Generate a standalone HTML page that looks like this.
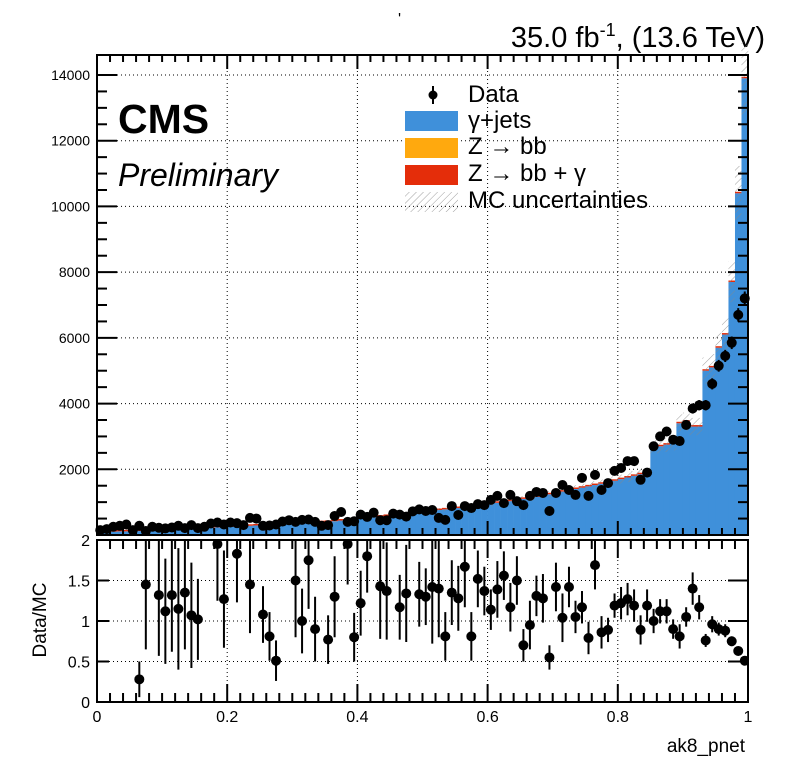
<!DOCTYPE html>
<html><head><meta charset="utf-8"><style>
body{margin:0;background:#fff}
svg{display:block;font-family:"Liberation Sans",sans-serif}
</style></head><body>
<svg id="c" width="796" height="772" viewBox="0 0 796 772">
<defs>
<pattern id="hatch" width="5" height="5" patternUnits="userSpaceOnUse" patternTransform="rotate(45)">
<line x1="0" y1="0" x2="0" y2="5" stroke="#888" stroke-width="0.8"/></pattern>
</defs>
<text x="398" y="24" font-size="16">'</text>
<text x="765" y="47" font-size="29" text-anchor="end">35.0 fb<tspan dy="-11" font-size="18">-1</tspan><tspan dy="11">, (13.6 TeV)</tspan></text>
<g id="topG"></g>
<g id="botG"></g>
<text x="118" y="133" font-size="41" font-weight="bold">CMS</text>
<text x="118" y="186" font-size="32" font-style="italic">Preliminary</text>
<g font-size="24">
<g><line x1="433" y1="86" x2="433" y2="104" stroke="#000" stroke-width="2"/><circle cx="433" cy="95" r="4.5" fill="#000"/><text x="468" y="102">Data</text></g>
<g><rect x="405" y="111" width="53" height="20" fill="#3f90da"/><text x="468" y="128">γ+jets</text></g>
<g><rect x="405" y="138" width="53" height="20" fill="#ffa90e"/><text x="468" y="154">Z → bb</text></g>
<g><rect x="405" y="165" width="53" height="20" fill="#e42d0a"/><text x="468" y="181">Z → bb + γ</text></g>
<g><rect x="405" y="192" width="53" height="20" fill="url(#hatch)"/><text x="468" y="208">MC uncertainties</text></g>
</g>
<text x="745" y="752" font-size="19" text-anchor="end">ak8_pnet</text>
<text transform="translate(46,620) rotate(-90)" font-size="19" text-anchor="middle">Data/MC</text>
</svg>
<script>
const mcValues=[80,90,100,110,110,120,120,130,140,140,150,160,170,180,190,200,210,220,230,240,250,260,270,280,290,300,310,320,330,340,350,360,370,380,390,400,420,440,460,480,500,520,540,560,580,600,620,640,660,680,720,740,760,780,800,820,840,870,900,920,950,980,1000,1030,1060,1100,1130,1160,1200,1240,1280,1320,1360,1400,1440,1480,1520,1560,1600,1650,1700,1750,1800,1850,1900,2700,2700,2750,2800,3400,3450,3300,3300,5000,5100,5700,6100,7700,10400,13900];
const dataValues=[150,180,250,280,320,150,280,120,250,220,200,230,280,210,300,210,250,350,380,320,380,360,300,520,500,280,290,320,410,450,400,460,470,400,280,300,580,700,400,420,620,550,680,450,450,650,620,560,720,780,730,760,520,460,880,610,880,820,940,910,1070,1190,970,1220,1030,910,1190,1310,1280,730,1280,1520,1370,1220,1740,1190,1830,1370,1580,1950,2040,2250,2250,1680,1900,2700,3000,3150,2900,2860,3350,3850,3950,3950,4600,5150,5450,5850,6700,7200];
const ratioValues=[null,null,null,null,null,null,0.28,1.45,null,1.32,1.12,1.32,1.15,1.35,1.07,1.02,null,null,1.95,1.27,null,1.83,null,1.45,null,1.08,0.81,0.51,null,null,1.5,1.0,1.75,0.9,null,0.77,1.3,null,1.95,0.8,1.22,1.8,null,1.43,1.37,null,1.17,1.34,null,1.33,1.3,1.42,1.40,0.81,1.35,1.28,1.67,0.81,1.52,1.37,1.14,1.39,1.56,1.17,1.5,0.70,0.95,1.31,1.28,0.55,1.42,1.04,1.42,1.05,1.17,0.79,1.69,0.86,0.89,1.19,1.22,1.27,1.19,0.89,1.19,1.0,1.12,1.12,0.9,0.81,1.05,1.4,1.17,0.76,0.96,0.9,0.88,0.75,0.63,0.51];
const ratioErrors=[0.6,0.6,0.6,0.6,0.6,0.6,0.22,0.8,0.7,0.75,0.65,0.7,0.75,0.7,0.65,0.5,0.6,0.6,0.7,0.6,0.6,0.6,0.6,0.6,0.6,0.35,0.3,0.25,0.4,0.4,0.7,0.4,0.6,0.4,0.4,0.3,0.5,0.4,0.5,0.3,0.4,0.45,0.4,0.65,0.6,0.4,0.4,0.6,0.4,0.4,0.35,0.7,0.6,0.3,0.4,0.4,0.5,0.3,0.35,0.3,0.25,0.35,0.3,0.3,0.3,0.2,0.3,0.25,0.3,0.15,0.3,0.3,0.25,0.2,0.2,0.2,0.3,0.2,0.15,0.15,0.2,0.2,0.2,0.18,0.2,0.15,0.15,0.15,0.12,0.15,0.12,0.2,0.15,0.08,0.1,0.08,0.08,0.06,0.05,0.05];
const yTicksTop=[2000,4000,6000,8000,10000,12000,14000];
const yTicksBot=[0,0.5,1,1.5,2];
const yTickLabelsBot=["0","0.5","1","1.5","2"];
const xTicks=[0,0.2,0.4,0.6,0.8,1];
const xTickLabels=["0","0.2","0.4","0.6","0.8","1"];

const NS="http://www.w3.org/2000/svg";
const L=97,R=748,T1=55,B1=535,T2=540,B2=702;
const xS=v=>L+v*(R-L);
const yTop=v=>B1-v*(B1-75)/14000;
const yBot=v=>B2-v*(B2-T2)/2;
function mk(p,tag,a){const e=document.createElementNS(NS,tag);for(const k in a)e.setAttribute(k,a[k]);p.appendChild(e);return e;}
const topG=document.getElementById('topG'),botG=document.getElementById('botG');
const n=mcValues.length,w=1/n;

function grid(g,t,b,yTicks,yf){
  xTicks.forEach(v=>{if(v>0&&v<1){const l=mk(g,'line',{x1:xS(v),x2:xS(v),y1:t,y2:b,stroke:'#000','stroke-width':1,'stroke-dasharray':'1,3'});
  
  }});
  yTicks.forEach(v=>{const y=yf(v);if(y>t+1&&y<b-1){const l=mk(g,'line',{x1:L,x2:R,y1:y,y2:y,stroke:'#000','stroke-width':1,'stroke-dasharray':'1,3'});
  
  }});
}
grid(topG,T1,B1,yTicksTop,yTop);
grid(botG,T2,B2,yTicksBot,yBot);

for(let i=0;i<n;i++){
  const x0=xS(i*w),x1=xS((i+1)*w);const v=mcValues[i];
  const r=mk(topG,'rect',{x:x0,y:yTop(v),width:x1-x0+0.3,height:B1-yTop(v),fill:'#3f90da'});
  
  
  const zz=mk(topG,'rect',{x:x0,y:yTop(v)-1.5,width:x1-x0+0.3,height:1.5,fill:'#e42d0a'});
  
  
  const h=mk(topG,'rect',{x:x0,y:yTop(v*1.08),width:x1-x0+0.3,height:yTop(v*0.92)-yTop(v*1.08),fill:'url(#hatch)'});
  
  
}
for(let i=0;i<n;i++){
  const cx=xS((i+0.5)*w),v=dataValues[i],e=Math.sqrt(v)*2.5;
  const l=mk(topG,'line',{x1:cx,x2:cx,y1:yTop(v+e),y2:yTop(Math.max(0,v-e)),stroke:'#000','stroke-width':2});
  
  
  const c=mk(topG,'circle',{cx:cx,cy:yTop(v),r:5,fill:'#000'});
  
  
}
const clip=mk(botG,'clipPath',{id:'bclip'});mk(clip,'rect',{x:L,y:T2,width:R-L,height:B2-T2});
const rg=mk(botG,'g',{'clip-path':'url(#bclip)'});
for(let i=0;i<n;i++){
  const v=ratioValues[i];if(v===null)continue;
  const cx=xS((i+0.5)*w),e=ratioErrors[i];
  const l=mk(rg,'line',{x1:cx,x2:cx,y1:yBot(v+e),y2:yBot(Math.max(0,v-e)),stroke:'#000','stroke-width':2});
  
  
  const c=mk(rg,'circle',{cx:cx,cy:yBot(v),r:5,fill:'#000'});
  
  
}
function frame(g,t,b,name){const f=mk(g,'rect',{x:L,y:t,width:R-L,height:b-t,fill:'none',stroke:'#000','stroke-width':2});
 
 }
frame(topG,T1,B1,'top-plot-frame');frame(botG,T2,B2,'ratio-plot-frame');
function xTickMarks(g,t,b,big){
  for(let k=0;k<=50;k++){const v=k/50,x=xS(v),len=(k%10===0)?big:big/2;
    const a=mk(g,'line',{x1:x,x2:x,y1:b,y2:b-len,stroke:'#000','stroke-width':2});
    
    
    const c=mk(g,'line',{x1:x,x2:x,y1:t,y2:t+len,stroke:'#000','stroke-width':2});
    
    }
}
xTickMarks(topG,T1,B1,14);xTickMarks(botG,T2,B2,18);
for(let k=0;k<=28;k++){const v=k*500,y=yTop(v);if(y<T1)continue;const len=(k%4===0)?20:10;
  const a=mk(topG,'line',{x1:L,x2:L+len,y1:y,y2:y,stroke:'#000','stroke-width':2});
  
  
  const c=mk(topG,'line',{x1:R,x2:R-len,y1:y,y2:y,stroke:'#000','stroke-width':2});
  
  }
yTicksTop.forEach(v=>{const t=mk(topG,'text',{x:90,y:yTop(v)+5,'font-size':14,'text-anchor':'end'});t.textContent=v;
  
  });
for(let k=0;k<=4;k++){const v=k*0.5,y=yBot(v);
  const a=mk(botG,'line',{x1:R,x2:R-20,y1:y,y2:y,stroke:'#000','stroke-width':2});
  
  
  const b=mk(botG,'line',{x1:L,x2:L+12,y1:y,y2:y,stroke:'#000','stroke-width':2});
  
  }
yTicksBot.forEach((v,i)=>{const t=mk(botG,'text',{x:90,y:yBot(v)+6,'font-size':16,'text-anchor':'end'});t.textContent=yTickLabelsBot[i];
  
  });
xTicks.forEach((v,i)=>{const t=mk(botG,'text',{x:xS(v),y:722,'font-size':16,'text-anchor':'middle'});t.textContent=xTickLabels[i];
  
  });
</script>
</body></html>
